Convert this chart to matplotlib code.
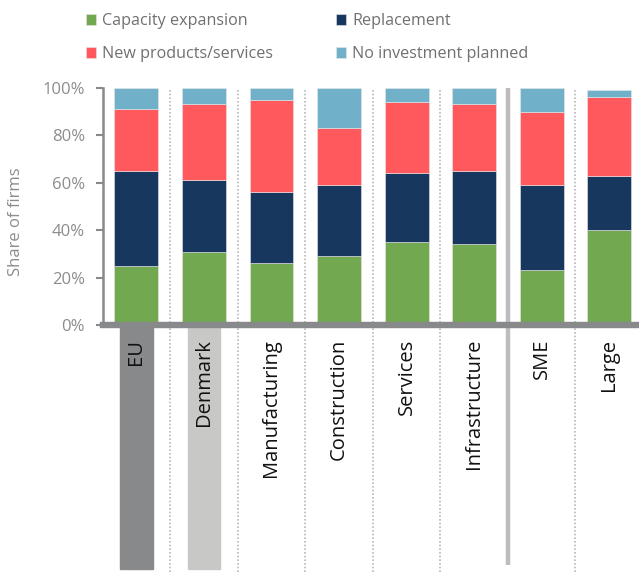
import numpy as np
import matplotlib
matplotlib.use("Agg")
import matplotlib.pyplot as plt
from matplotlib.patches import Rectangle

categories = ["EU", "Denmark", "Manufacturing", "Construction",
              "Services", "Infrastructure", "SME", "Large"]
capacity = [25, 31, 26, 29, 35, 34, 23, 40]
replacement = [40, 30, 30, 30, 29, 31, 36, 23]
new_products = [26, 32, 39, 24, 30, 28, 31, 33]
no_investment = [9, 7, 5, 17, 6, 7, 10, 3]
series_names = ["Capacity expansion", "Replacement",
                "New products/services", "No investment planned"]
yticks = [0, 20, 40, 60, 80, 100]

colors = ["#72a84f", "#17375e", "#ff585d", "#70b0c8"]
grey = "#87898b"

plt.rcParams["font.family"] = ["Open Sans", "DejaVu Sans"]

fig = plt.figure(figsize=(6.39, 5.77), dpi=100)
ax = fig.add_axes([0.161, 0.4367, 0.839, 0.411])

x = np.arange(len(categories))
bottom = np.zeros(len(categories))
handles = []
for vals, col, name in zip([capacity, replacement, new_products, no_investment],
                           colors, series_names):
    vals = np.array(vals) / 100
    b = ax.bar(x, vals, 0.65, bottom=bottom, color=col, edgecolor="#e8e8e8",
               linewidth=0.4, label=name, zorder=2)
    handles.append(b)
    bottom += vals

ax.set_xlim(-0.496, 7.44)
ax.set_ylim(0, 1)

# separators between groups
for s in np.arange(0.5, 7, 1):
    if s == 5.5:
        ax.plot([s, s], [1.0, -1.01], color="#bdbdbd", lw=3.2,
                clip_on=False, zorder=1, solid_capstyle="butt")
    else:
        ax.plot([s, s], [0.99, -1.05], color="#b8b8b8", lw=1.2,
                ls=(0, (1, 1.2)), clip_on=False, zorder=1)

# highlight boxes under EU and Denmark labels
ax.add_patch(Rectangle((0 - 0.24, -1.03), 0.48, 1.03, color=grey,
                       clip_on=False, zorder=0))
ax.add_patch(Rectangle((1 - 0.24, -1.03), 0.48, 1.03, color="#c8c8c6",
                       clip_on=False, zorder=0))

# thick x axis band
ax.axhline(0, color=grey, lw=4.6, zorder=3, clip_on=False)

ax.set_xticks(x)
ax.set_xticklabels(categories, rotation=90, fontsize=14.5, color="#111111",
                   va="top")
ax.tick_params(axis="x", length=0, pad=10)

ax.set_yticks([v / 100 for v in yticks])
ax.set_yticklabels([f"{v}%" for v in yticks], fontsize=12, color="#8c8c8c")
ax.tick_params(axis="y", length=5, width=1.5, color=grey, pad=8)
ax.set_ylabel("Share of firms", fontsize=12, color="#8c8c8c")
ax.yaxis.set_label_coords(-0.147, 0.435)

for side in ["top", "right", "bottom"]:
    ax.spines[side].set_visible(False)
ax.spines["left"].set_color(grey)
ax.spines["left"].set_linewidth(1.8)

fig.legend(handles=[handles[0], handles[2], handles[1], handles[3]],
           labels=[series_names[0], series_names[2], series_names[1], series_names[3]],
           ncol=2, loc="upper left", bbox_to_anchor=(86 / 639, 1 - 13 / 577),
           frameon=False, fontsize=11.6, labelcolor="#707070",
           borderpad=0, borderaxespad=0,
           handlelength=0.65, handleheight=0.65, handletextpad=0.35,
           columnspacing=3.9, labelspacing=1.05)

fig.savefig("out.png", dpi=100)
